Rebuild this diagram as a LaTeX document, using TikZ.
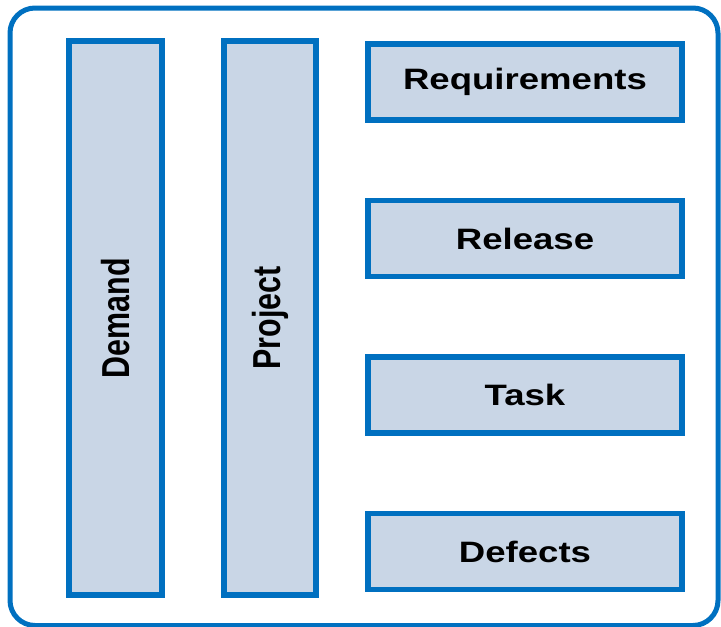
\documentclass[tikz,border=0pt]{standalone}
\usepackage{fontspec}
\usepackage{xcolor}
\setmainfont{Liberation Sans}
\newfontfamily\wideface[FakeStretch=1.24]{Liberation Sans}
\newfontfamily\narrowface[FakeStretch=0.78]{Liberation Sans}
\definecolor{frameblue}{RGB}{0,112,192}
\definecolor{boxfill}{RGB}{201,214,230}
\tikzset{
  modul/.style={draw=frameblue,line width=5.5pt,fill=boxfill,inner sep=0pt},
  saeule/.style={modul,rotate=90,
    font=\narrowface\bfseries\fontsize{39}{40}\selectfont},
  leiste/.style={modul,minimum width=314pt,minimum height=76pt,
    font=\wideface\bfseries\fontsize{29.5}{30}\selectfont}
}
\begin{document}
\begin{tikzpicture}[x=1pt,y=-1pt]
	 \useasboundingbox (0,0) rectangle (721,627);
	 %Rahmen
	 \draw[frameblue,line width=5pt,rounded corners=25pt] (10,8) rectangle (718,625.5);
	 %
	 \node (demand) at (115.5,318) [saeule,minimum width=554pt,minimum height=93pt] {Demand};
	 %
	 \node (project) at (270,318) [saeule,minimum width=554pt,minimum height=92pt] {Project};
	 %
	 \node (requirements) at (525,82) [leiste] {Requirements};
	 %
	 \node (release) at (525,238.5) [leiste] {Release};
	 %
	 \node (task) at (525,395) [leiste] {Task};
	 %
	 \node (defects) at (525,551.5) [leiste] {Defects};
\end{tikzpicture}
\end{document}
